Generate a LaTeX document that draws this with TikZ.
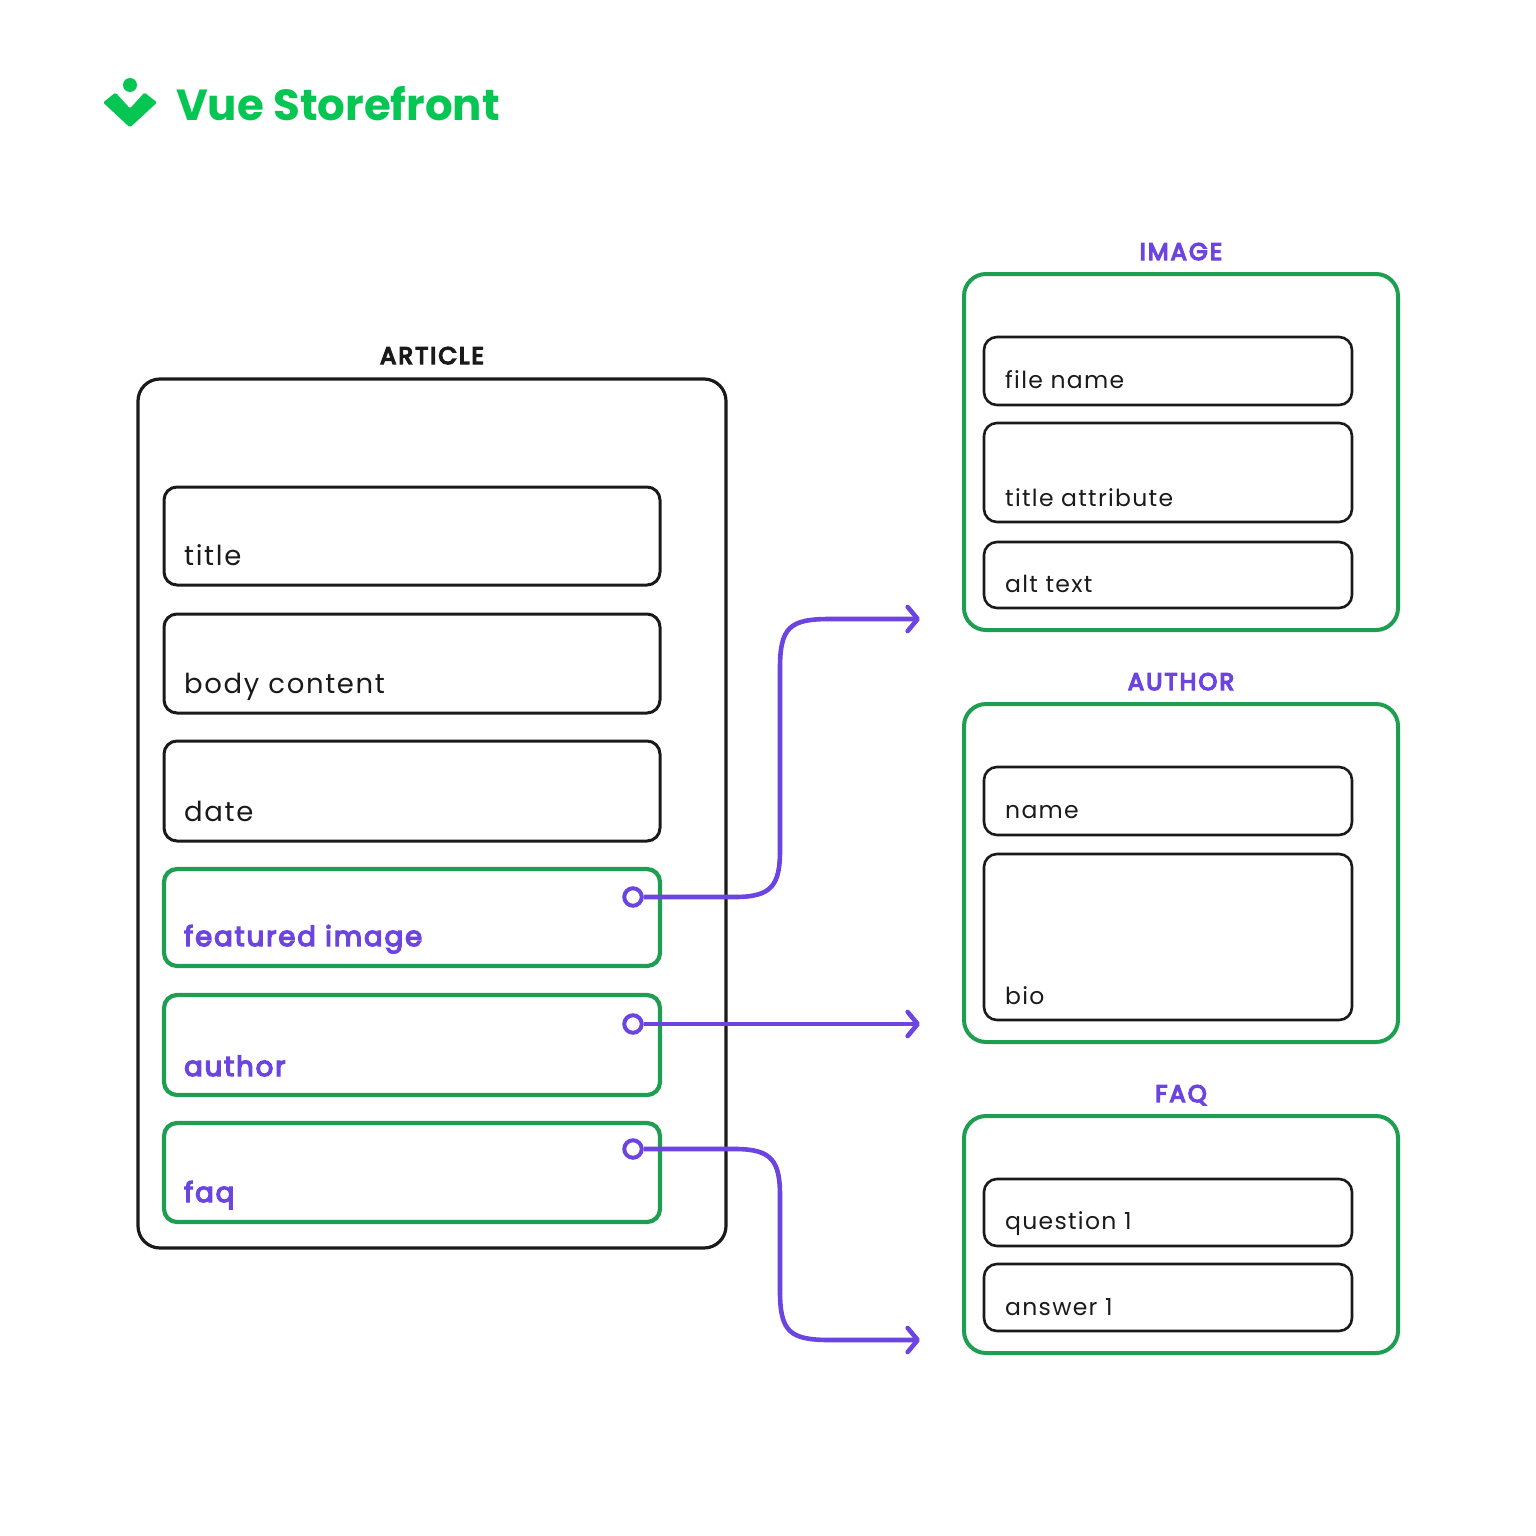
\documentclass[tikz,border=0pt]{standalone}
\usepackage{fontspec}
\setmainfont{Poppins}
\newfontfamily\bodyfont[LetterSpace=6]{Poppins}
\newfontfamily\smallfont[LetterSpace=5.5]{Poppins}
\newfontfamily\medfont[LetterSpace=7,FakeBold=5]{Poppins}
\newfontfamily\headfont[LetterSpace=9,FakeBold=6]{Poppins}
\newfontfamily\logofont[LetterSpace=0]{Poppins}
\usetikzlibrary{arrows.meta}
\definecolor{ink}{HTML}{1A1A1A}
\definecolor{grn}{HTML}{1E9E50}
\definecolor{vio}{HTML}{6C45E0}
\definecolor{logog}{HTML}{05C653}
\tikzset{
 x=1pt,y=-1pt,
 box/.style={draw=ink,line width=3pt,rounded corners=13pt,inner sep=0pt},
 outerblack/.style={draw=ink,line width=3.2pt,rounded corners=22pt,inner sep=0pt},
 outergreen/.style={draw=grn,line width=4pt,rounded corners=22pt,inner sep=0pt},
 inner/.style={draw=ink,line width=2.6pt,rounded corners=13pt,inner sep=0pt},
 refbox/.style={draw=grn,line width=4.2pt,rounded corners=13pt,inner sep=0pt},
 head/.style={font=\headfont\fontsize{24}{24}\selectfont,inner sep=0pt,anchor=base},
 big/.style={font=\bodyfont\fontsize{27.5}{28}\selectfont,text=ink,inner sep=0pt,anchor=base west},
 bigv/.style={big,font=\medfont\fontsize{27.5}{28}\selectfont,text=vio},
 small/.style={font=\smallfont\fontsize{23.5}{24}\selectfont,text=ink,inner sep=0pt,anchor=base west},
 port/.style={draw=vio,fill=white,line width=4pt,circle,minimum size=17.5pt,inner sep=0pt},
 conn/.style={draw=vio,line width=4.6pt,-{Straight Barb[length=10pt,width=24pt,line width=4.6pt,round]}},
}
\newcommand{\bx}[6]{\node[#1,minimum width=#4pt-#3pt,minimum height=#6pt-#5pt] (#2) at ({(#3+#4)/2},{(#5+#6)/2}) {};}
\begin{document}
\begin{tikzpicture}
\useasboundingbox (0,0) rectangle (1536,1536);
% logo
\fill[logog] (130,85) circle (7);
\fill[logog,rounded corners=1.5pt] (103,102.5) -- (115.5,92.5) -- (130,108.5) -- (144.5,92.5) -- (157,102.5) -- (130,127.5) -- cycle;
\node[inner sep=0pt,anchor=base west,text=logog,font=\logofont\bfseries\fontsize{43.5}{44}\selectfont] (logo) at (176,121) {Vue Storefront};
% article
\bx{outerblack}{article}{138}{726}{379}{1248}
\node[head,text=ink] (articleh) at (432,364) {ARTICLE};
\bx{box}{b1}{164}{660}{487}{585}
\bx{box}{b2}{164}{660}{614}{713}
\bx{box}{b3}{164}{660}{741}{841}
\bx{refbox}{b4}{164}{660}{869}{966}
\bx{refbox}{b5}{164}{660}{995}{1095}
\bx{refbox}{b6}{164}{660}{1123}{1222}
\node[big] (t1) at (184,565) {title};
\node[big] (t2) at (184,693) {body content};
\node[big] (t3) at (184,821) {date};
\node[bigv] (t4) at (184,946) {featured image};
\node[bigv] (t5) at (184,1076) {author};
\node[bigv] (t6) at (184,1202) {faq};
% image
\bx{outergreen}{image}{964}{1398}{274}{630}
\node[head,text=vio] (imageh) at (1181,260) {IMAGE};
\bx{inner}{i1}{984}{1352}{337}{405}
\bx{inner}{i2}{984}{1352}{423}{522}
\bx{inner}{i3}{984}{1352}{542}{608}
\node[small] (ti1) at (1005,388) {file name};
\node[small] (ti2) at (1005,506) {title attribute};
\node[small] (ti3) at (1005,592) {alt text};
% author
\bx{outergreen}{authorb}{964}{1398}{704}{1042}
\node[head,text=vio] (authorh) at (1181,690) {AUTHOR};
\bx{inner}{a1}{984}{1352}{767}{835}
\bx{inner}{a2}{984}{1352}{854}{1020}
\node[small] (ta1) at (1005,818) {name};
\node[small] (ta2) at (1005,1004) {bio};
% faq
\bx{outergreen}{faqb}{964}{1398}{1116}{1353}
\node[head,text=vio] (faqh) at (1181,1102) {FAQ};
\bx{inner}{f1}{984}{1352}{1179}{1246}
\bx{inner}{f2}{984}{1352}{1264}{1331}
\node[small] (tf1) at (1005,1229) {question 1};
\node[small] (tf2) at (1005,1315) {answer 1};
% connectors
\node[port] (p1) at (633,897) {};
\node[port] (p2) at (633,1024) {};
\node[port] (p3) at (633,1149) {};
\coordinate (e1) at (920,619);
\coordinate (e2) at (920,1024);
\coordinate (e3) at (920,1340);
\draw[conn] (p1.east) -- (735,897) .. controls (772,897) and (780,885) .. (780,850) -- (780,668) .. controls (780,627) and (790,619) .. (830,619) -- (e1);
\draw[conn] (p2.east) -- (e2);
\draw[conn] (p3.east) -- (735,1149) .. controls (772,1149) and (780,1161) .. (780,1196) -- (780,1291) .. controls (780,1332) and (790,1340) .. (830,1340) -- (e3);
\end{tikzpicture}
\end{document}
